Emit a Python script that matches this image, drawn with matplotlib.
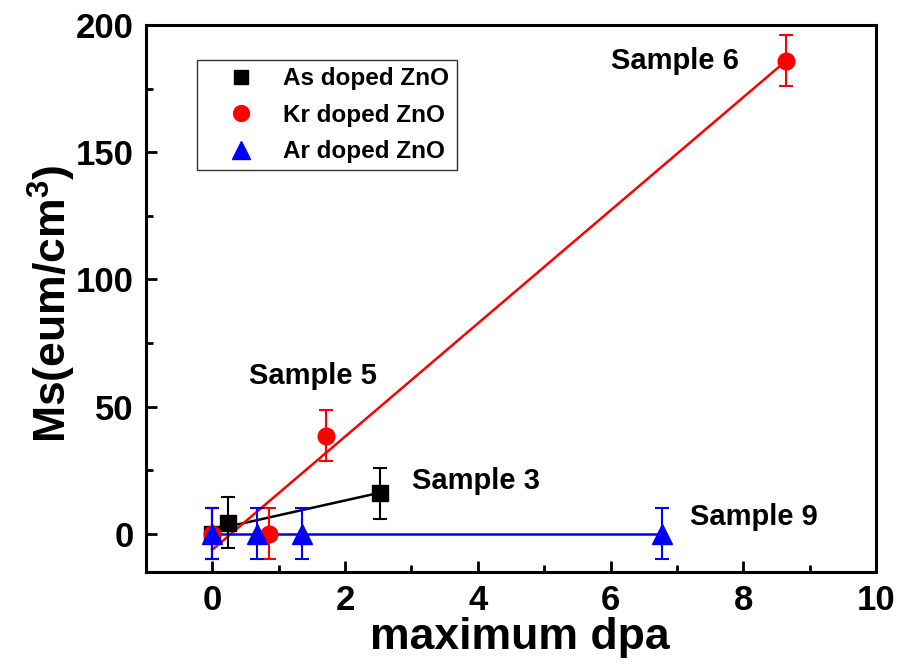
import numpy as np
import matplotlib
matplotlib.use("Agg")
import matplotlib.pyplot as plt
from matplotlib.ticker import MultipleLocator
from matplotlib.lines import Line2D

plt.rcParams["font.family"] = ["Liberation Sans", "DejaVu Sans"]
plt.rcParams["font.weight"] = "bold"
plt.rcParams["mathtext.fontset"] = "custom"
plt.rcParams["mathtext.rm"] = "Liberation Sans:bold"
plt.rcParams["mathtext.bf"] = "Liberation Sans:bold"
plt.rcParams["mathtext.default"] = "bf"

# dpa vs Ms
as_x = [0, 0.23, 2.52]
as_y = [0, 4.4, 16]
kr_x = [0, 0.86, 1.71, 8.65]
kr_y = [0, 0, 38.5, 186]
ar_x = [0, 0.67, 1.35, 6.78]
ar_y = [0, 0, 0, 0]
err = 10

labels = ["Sample 6", "Sample 5", "Sample 3", "Sample 9"]
label_x = [6.97, 1.51, 3.97, 8.16]
label_y = [185.9, 62.2, 20.7, 6.6]

fig = plt.figure(figsize=(9.01, 6.71), dpi=100)
ax = fig.add_axes([146 / 901, 1 - 572 / 671, (876 - 146) / 901, (572 - 25) / 671])

series = [
    (as_x, as_y, "black", "s", 11, "As doped ZnO"),
    (kr_x, kr_y, "red", "o", 12, "Kr doped ZnO"),
    (ar_x, ar_y, "blue", "^", 14, "Ar doped ZnO"),
]
handles = []
for xs, ys, c, m, ms, lab in series:
    # linear fit line across the data range
    k, b = np.polyfit(xs, ys, 1)
    xl = np.array([min(xs), max(xs)])
    ax.plot(xl, k * xl + b, color=c, lw=1.8, zorder=2)
    ax.errorbar(xs, ys, yerr=err, fmt=m, color=c, ms=ms, ecolor=c,
                elinewidth=1.5, capsize=5, capthick=1.5, zorder=3)
    handles.append(Line2D([], [], ls="none", marker=m, color=c,
                          ms=ms * 0.95, label=lab))

for t, x, y in zip(labels, label_x, label_y):
    ax.text(x, y, t, fontsize=21, fontweight="bold", ha="center", va="center")

ax.set_xlim(-1, 10)
ax.set_ylim(-15, 200)
ax.xaxis.set_major_locator(MultipleLocator(2))
ax.xaxis.set_minor_locator(MultipleLocator(1))
ax.yaxis.set_major_locator(MultipleLocator(50))
ax.yaxis.set_minor_locator(MultipleLocator(25))
ax.tick_params(which="both", direction="in", width=2, labelsize=25, pad=9)
ax.tick_params(which="major", length=8)
ax.tick_params(which="minor", length=5)
for s in ax.spines.values():
    s.set_linewidth(2.2)

ax.set_xlabel("maximum dpa", fontsize=32, fontweight="bold")
ax.set_ylabel("Ms(eum/cm$^{3}$)", fontsize=32, fontweight="bold")
ax.xaxis.set_label_coords(0.512, -0.083)
ax.yaxis.set_label_coords(-0.093, 0.49)

leg = ax.legend(handles=handles, loc="upper left", bbox_to_anchor=(0.07, 0.936),
                borderaxespad=0, fontsize=17.5, frameon=True, fancybox=False,
                edgecolor="black", handlelength=3.0, handletextpad=0.25,
                borderpad=0.3, labelspacing=0.55)
leg.get_frame().set_linewidth(1)
for t in leg.get_texts():
    t.set_fontweight("bold")

fig.savefig("out.png", dpi=100)
